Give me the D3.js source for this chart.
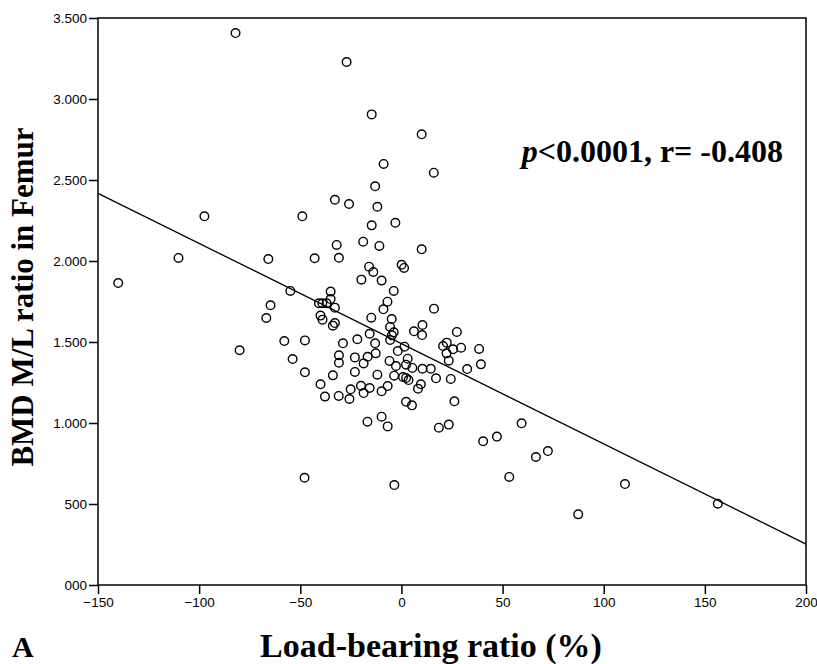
<!DOCTYPE html>
<html>
<head>
<meta charset="utf-8">
<script src="https://cdn.jsdelivr.net/npm/d3@7/dist/d3.min.js"></script>
<style>
  body { margin: 0; background: #fff; }
  .tick text { font-family: "Liberation Sans", Arial, sans-serif; font-size: 13.5px; fill: #000; }
  .title { font-family: "Liberation Serif", "Times New Roman", serif; font-weight: bold; fill: #000; }
</style>
</head>
<body>
<div id="chart"></div>
<script>
// load-bearing ratio (%) for each subject
const loadRatio = [
  -140.0, -110.2, -97.4, -80.0, -82.0, -27.1, -14.7, 10.0, -65.8, -49.0,
  -42.9, -54.9, -64.7, -66.8, -57.9, -47.7, -53.8, -47.7, -40.0, -37.8,
  -8.8, 16.0, -13.0, -32.9, -25.9, -11.9, -14.7, -3.0, -32.0, -18.9,
  -10.9, 10.0, -30.9, -16.0, -13.9, 0.1, 1.3, -19.8, -9.8, -3.8,
  -35.0, -35.0, -40.8, -39.1, -37.0, -32.9, -6.9, -8.9, 16.1, -40.0,
  -39.0, -32.9, -33.9, -14.9, -4.8, -5.6, -3.8, -4.7, 10.4, 6.2,
  10.2, 27.4, -15.7, -28.9, -21.8, -13.0, -5.6, 1.5, -1.8, 20.6,
  22.4, 25.5, 29.5, 22.3, 23.4, 38.4, 39.3, 32.5, -30.9, -30.9,
  -23.0, -16.7, -12.7, -18.7, -5.9, 3.1, -2.7, 2.3, 5.4, 10.4,
  14.5, -33.9, -23.0, -11.9, -3.6, 0.8, 2.3, 3.5, 17.1, 24.4,
  8.2, 9.6, -31.0, -25.7, -25.1, -20.0, -18.7, -15.7, -9.8, -6.8,
  2.3, 5.2, 26.2, -16.8, -9.8, -6.8, 18.5, 23.4, 40.4, 47.2,
  -47.9, -3.5, 59.4, 53.3, 66.5, 72.4, 87.4, 110.5, 156.4
];

// BMD M/L ratio in femur (same order)
const bmdRatio = [
  1864, 2019, 2276, 1449, 3407, 3228, 2905, 2782, 2012, 2276,
  2017, 1815, 1727, 1648, 1506, 1510, 1395, 1313, 1239, 1163,
  2599, 2545, 2461, 2378, 2352, 2335, 2220, 2236, 2099, 2119,
  2093, 2072, 2020, 1965, 1932, 1977, 1957, 1885, 1879, 1815,
  1811, 1765, 1739, 1739, 1739, 1712, 1749, 1702, 1706, 1663,
  1638, 1617, 1601, 1650, 1642, 1593, 1560, 1541, 1605, 1566,
  1543, 1562, 1551, 1492, 1517, 1492, 1512, 1471, 1444, 1475,
  1496, 1455, 1465, 1430, 1385, 1457, 1362, 1333, 1418, 1372,
  1405, 1409, 1430, 1368, 1383, 1397, 1352, 1360, 1340, 1335,
  1335, 1294, 1315, 1298, 1292, 1284, 1278, 1265, 1276, 1272,
  1212, 1239, 1167, 1148, 1208, 1230, 1185, 1216, 1196, 1228,
  1131, 1109, 1134, 1008, 1039, 979, 971, 990, 887, 916,
  662, 617, 998, 667, 790, 827, 436, 623, 502
];

// fitted line
const fitIntercept = 1490;
const fitSlope = -6.186;

const xTicks = [-150, -100, -50, 0, 50, 100, 150, 200];
const yTicks = [0, 500, 1000, 1500, 2000, 2500, 3000, 3500];
const yTickLabels = ["000", "500", "1.000", "1.500", "2.000", "2.500", "3.000", "3.500"];

const statText = ", r= -0.408";

const W = 817, H = 664;
const margin = {top: 18, right: 11, bottom: 79, left: 98};
const width = W - margin.left - margin.right;
const height = H - margin.top - margin.bottom;

const svg = d3.select("#chart").append("svg")
  .attr("width", W)
  .attr("height", H);

const g = svg.append("g")
  .attr("transform", "translate(" + margin.left + "," + margin.top + ")");

const x = d3.scaleLinear().domain([-150, 200]).range([0, width]);
const y = d3.scaleLinear().domain([0, 3500]).range([height, 0]);

const xAxis = d3.axisBottom(x)
  .tickValues(xTicks)
  .tickSize(9)
  .tickPadding(3)
  .tickFormat(d3.format("d"));

const yAxis = d3.axisLeft(y)
  .tickValues(yTicks)
  .tickSize(9)
  .tickPadding(2)
  .tickFormat((d, i) => yTickLabels[i]);

// frame
g.append("rect")
  .attr("width", width)
  .attr("height", height)
  .style("fill", "none")
  .style("stroke", "#000")
  .style("stroke-width", 1.5);

g.append("g")
  .attr("transform", "translate(0," + height + ")")
  .call(xAxis)
  .call(a => a.select(".domain").remove())
  .selectAll("line").style("stroke", "#000").style("stroke-width", 1.5);

g.append("g")
  .call(yAxis)
  .call(a => a.select(".domain").remove())
  .selectAll("line").style("stroke", "#000").style("stroke-width", 1.5);

// regression line
const [x0, x1] = x.domain();
g.append("line")
  .attr("x1", x(x0))
  .attr("y1", y(fitIntercept + fitSlope * x0))
  .attr("x2", x(x1))
  .attr("y2", y(fitIntercept + fitSlope * x1))
  .style("stroke", "#000")
  .style("stroke-width", 1.3);

g.append("g")
  .selectAll("circle")
  .data(loadRatio.map((d, i) => [d, bmdRatio[i]]))
  .enter().append("circle")
  .attr("cx", d => x(d[0]))
  .attr("cy", d => y(d[1]))
  .attr("r", 4.3)
  .style("fill", "none")
  .style("stroke", "#000")
  .style("stroke-width", 1.4);

// annotation
const note = svg.append("text")
  .attr("class", "title")
  .attr("x", 783)
  .attr("y", 162)
  .attr("text-anchor", "end")
  .style("font-size", "32px");
note.append("tspan").style("font-style", "italic").text("p");
note.append("tspan").text("<0.0001" + statText);

svg.append("text")
  .attr("class", "title")
  .attr("x", 431)
  .attr("y", 657)
  .attr("text-anchor", "middle")
  .style("font-size", "34px")
  .text("Load-bearing ratio (%)");

svg.append("text")
  .attr("class", "title")
  .attr("transform", "translate(33,297) rotate(-90)")
  .attr("text-anchor", "middle")
  .style("font-size", "31px")
  .text("BMD M/L ratio in Femur");

svg.append("text")
  .attr("class", "title")
  .attr("x", 12)
  .attr("y", 657)
  .style("font-size", "30px")
  .text("A");
</script>
</body>
</html>
